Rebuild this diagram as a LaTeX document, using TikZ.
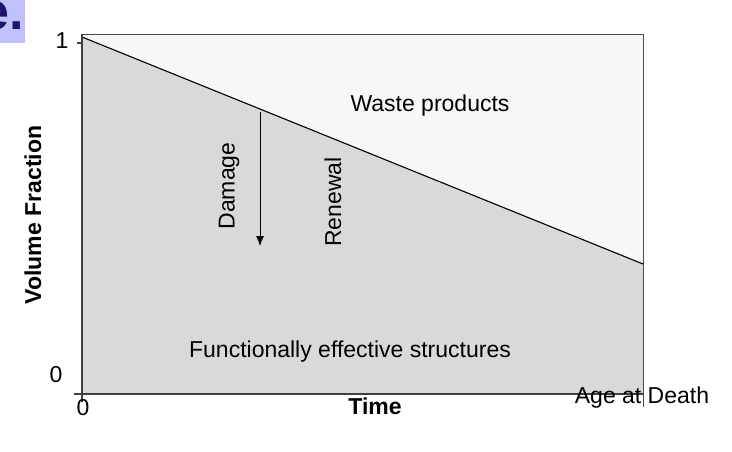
\documentclass[tikz,border=0pt]{standalone}
\usepackage{fontspec}
\setmainfont{Liberation Sans}
\usetikzlibrary{arrows.meta}
\begin{document}
\begin{tikzpicture}[x=1pt,y=-1pt,
  lbl/.style={font=\fontsize{23}{26}\selectfont, inner sep=0pt},
  blbl/.style={font=\fontsize{23}{26}\bfseries\selectfont, inner sep=0pt},
  ax/.style={draw=black!75, line width=1.2pt}]
\useasboundingbox (0,0) rectangle (732,452);
% corner label
\begin{scope}
\clip (0,0) rectangle (25,43);
\fill[fill={rgb,255:red,192;green,192;blue,250}] (0,0) rectangle (25,43);
\node[font=\fontsize{52}{52}\bfseries\selectfont, text={rgb,255:red,30;green,20;blue,110}, inner sep=0pt, anchor=east] (e) at (24,16) {e.};
\end{scope}
% regions
\coordinate (tl) at (82,34);
\coordinate (tr) at (643,34);
\coordinate (bl) at (82,394);
\coordinate (br) at (643,394);
\coordinate (ls) at (82,37);
\coordinate (le) at (643,264);
\fill[black!3] (ls) -- (tl) -- (tr) -- (le) -- cycle;
\fill[black!15] (ls) -- (le) -- (br) -- (bl) -- cycle;
\draw[line width=1.1pt] (ls) -- (le);
\draw[black!70, line width=0.8pt] (tl) -- (tr) -- (br);
\draw[ax] (tl) -- (bl) -- (br);
\coordinate (t1) at (77,43);
\coordinate (t1b) at (82,43);
\draw[ax] (t1) -- (t1b);
\coordinate (t0) at (74,394);
\draw[ax] (t0) -- (bl);
\coordinate (tx0) at (82,402);
\draw[ax] (bl) -- (tx0);
\coordinate (txe) at (643,407);
\draw[black!70, line width=0.8pt] (br) -- (txe);
% arrow
\coordinate (a1) at (260,112);
\coordinate (a2) at (260,246);
\draw[line width=0.9pt, -{Latex[length=10pt,width=8pt]}] (a1) -- (a2);
% texts
\node[lbl] (waste) at (430,106) {Waste products};
\node[lbl, rotate=90] (dam) at (229,186) {Damage};
\node[lbl, rotate=90] (ren) at (333,202) {Renewal};
\node[lbl] (func) at (350,352) {Functionally effective structures};
\node[blbl, rotate=90] (vf) at (33,215) {Volume Fraction};
\node[blbl] (time) at (375,406) {Time};
\node[lbl] (age) at (642,398) {Age at Death};
\node[lbl] (one) at (62,41) {1};
\node[lbl] (zy) at (56,375) {0};
\node[lbl] (zx) at (83,408) {0};
\end{tikzpicture}
\end{document}
